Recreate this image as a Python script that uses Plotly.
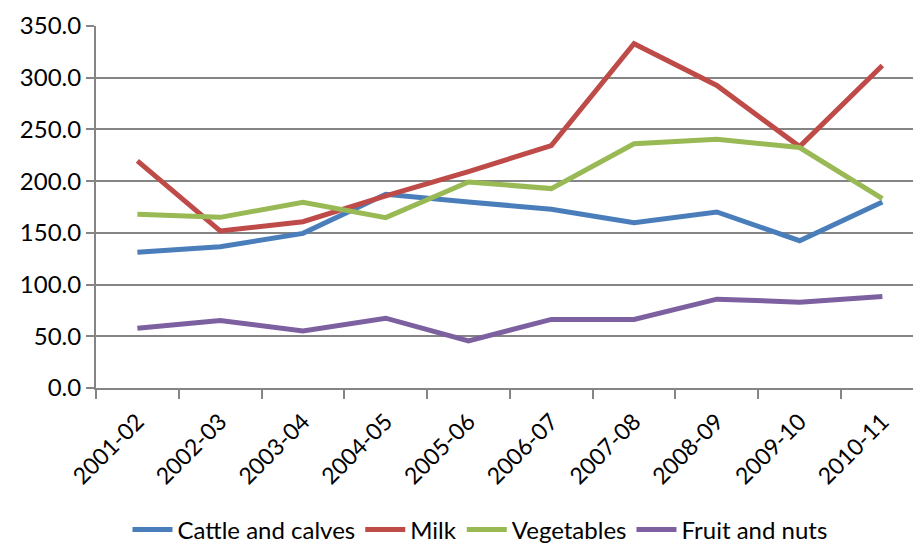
import plotly.graph_objects as go

years = ["2001-02", "2002-03", "2003-04", "2004-05", "2005-06",
         "2006-07", "2007-08", "2008-09", "2009-10", "2010-11"]

cattle = [131.2, 136.6, 149.5, 187.3, 179.9, 172.8, 159.8, 170.2, 142.4, 179.9]
milk = [219.6, 151.8, 160.8, 185.7, 209.2, 234.4, 332.9, 292.5, 233.4, 311.9]
vegetables = [168.0, 165.0, 179.6, 164.7, 199.2, 192.8, 236.1, 240.6, 232.5, 183.1]
fruit_nuts = [57.8, 65.3, 55.2, 67.5, 45.5, 66.3, 66.3, 85.9, 83.0, 88.5]

series = [
    ("Cattle and calves", cattle, "#4A7EBB"),
    ("Milk", milk, "#BE4B48"),
    ("Vegetables", vegetables, "#98B954"),
    ("Fruit and nuts", fruit_nuts, "#7D60A0"),
]

font_family = "Lato, 'Open Sans', sans-serif"
axis_grey = "#858585"

fig = go.Figure()
for name, vals, color in series:
    fig.add_trace(go.Scatter(
        x=years, y=vals, name=name, mode="lines",
        line=dict(color=color, width=5),
    ))

fig.update_layout(
    width=913, height=543,
    margin=dict(l=96, r=0, t=26, b=155, autoexpand=False),
    paper_bgcolor="white", plot_bgcolor="white",
    font=dict(family=font_family, size=24, color="#000000"),
    showlegend=True,
    legend=dict(
        orientation="h", x=0.47, xanchor="center", y=-0.392, yanchor="middle",
        font=dict(size=24), itemwidth=40, tracegroupgap=0,
    ),
)

fig.update_xaxes(
    type="category", range=[-0.5, 9.37], automargin=False,
    tickson="boundaries", ticks="outside", ticklen=9, tickcolor=axis_grey,
    tickwidth=2, tickangle=-45, ticklabelstandoff=9,
    showgrid=False, showline=True,
    linecolor=axis_grey, linewidth=2, tickfont=dict(size=23),
)
fig.update_yaxes(
    range=[0, 350], dtick=50, tickformat=".1f", automargin=False,
    showgrid=True, gridcolor=axis_grey, gridwidth=2,
    showline=True, linecolor=axis_grey, linewidth=2,
    ticks="outside", ticklen=8, tickcolor=axis_grey, tickwidth=2,
    zeroline=False, tickfont=dict(size=24),
)

fig.write_html("out.html")
